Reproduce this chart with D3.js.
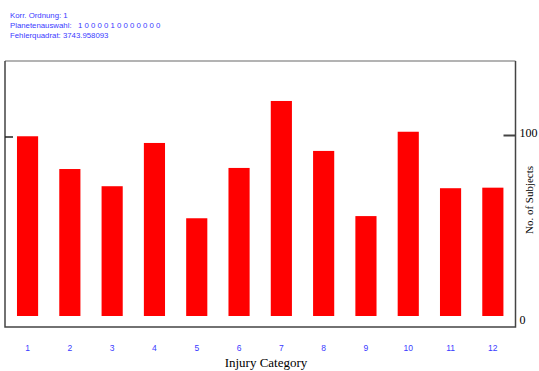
<!DOCTYPE html>
<html>
<head>
<meta charset="utf-8">
<script src="https://cdn.jsdelivr.net/npm/d3@7"></script>
<style>
  html, body { margin: 0; padding: 0; background: #fff; }
  svg { display: block; }
</style>
</head>
<body>
<svg id="chart" width="539" height="371"></svg>
<script>
// Injury categories and the number of subjects per category
const categories = ["1", "2", "3", "4", "5", "6", "7", "8", "9", "10", "11", "12"];
const subjects = [99.3, 81.2, 71.7, 95.6, 54.0, 81.8, 118.8, 91.2, 55.2, 101.8, 70.6, 70.9];
const yTicks = [0, 100];

// Header info lines
const headerLines = [
  "Korr. Ordnung: 1",
  "Planetenauswahl:   1 0 0 0 0 1 0 0 0 0 0 0 0",
  "Fehlerquadrat: 3743.958093"
];

const svg = d3.select("#chart");

const frame = { left: 5, right: 515.5, top: 61, bottom: 327 };

const x = d3.scaleBand()
  .domain(categories)
  .range([6.4, 514])
  .paddingInner(0.5)
  .paddingOuter(0.25);

const y = d3.scaleLinear()
  .domain([0, 100])
  .range([316, 135]);

// header
svg.append("g")
  .selectAll("text")
  .data(headerLines)
  .join("text")
  .attr("x", 10)
  .attr("y", (d, i) => 18 + i * 10)
  .attr("font-family", "Liberation Sans, Arial, sans-serif")
  .attr("font-size", 7.8)
  .attr("fill", "#3a3aff")
  .attr("xml:space", "preserve")
  .style("white-space", "pre")
  .text(d => d);

// bars
svg.append("g")
  .selectAll("rect")
  .data(subjects)
  .join("rect")
  .attr("x", (d, i) => x(categories[i]))
  .attr("width", x.bandwidth())
  .attr("y", d => y(d))
  .attr("height", d => y(0) - y(d))
  .attr("fill", "#ff0000");

// frame
svg.append("line")
  .attr("x1", frame.left).attr("x2", frame.right)
  .attr("y1", frame.top).attr("y2", frame.top)
  .attr("stroke", "#9a9a9a").attr("stroke-width", 1.5);
svg.append("path")
  .attr("d", `M${frame.left},${frame.top} V${frame.bottom} H${frame.right} V${frame.top}`)
  .attr("fill", "none")
  .attr("stroke", "#444").attr("stroke-width", 1.5);

// left axis tick
const leftAxis = d3.axisRight(y).tickValues([100]).tickSize(8).tickFormat("");
const gl = svg.append("g").attr("transform", `translate(${frame.left},1.5)`).call(leftAxis);
gl.select(".domain").remove();
gl.selectAll(".tick line").attr("stroke", "#222").attr("stroke-width", 1.5);

// right axis
const rightAxis = d3.axisRight(y).tickValues(yTicks).tickSizeInner(-12).tickSizeOuter(0).tickPadding(4);
const gr = svg.append("g").attr("transform", `translate(${frame.right},0)`).call(rightAxis);
gr.select(".domain").remove();
gr.selectAll(".tick line")
  .attr("stroke", "#444").attr("stroke-width", 2)
  .attr("display", d => d === 0 ? "none" : null);
gr.selectAll(".tick text")
  .attr("font-family", "Liberation Serif, Times New Roman, serif")
  .attr("font-size", 12)
  .attr("fill", "#000")
  .attr("dy", d => d === 0 ? "0.65em" : "0.1em");

// y axis title
svg.append("text")
  .attr("transform", "translate(533,200) rotate(-90)")
  .attr("text-anchor", "middle")
  .attr("font-family", "Liberation Serif, Times New Roman, serif")
  .attr("font-size", 11)
  .attr("fill", "#000")
  .text("No. of Subjects");

// category labels
svg.append("g")
  .selectAll("text")
  .data(categories)
  .join("text")
  .attr("x", d => x(d) + x.bandwidth() / 2)
  .attr("y", 351)
  .attr("text-anchor", "middle")
  .attr("font-family", "Liberation Sans, Arial, sans-serif")
  .attr("font-size", 8.5)
  .attr("fill", "#3a3aff")
  .text(d => d);

// x axis title
svg.append("text")
  .attr("x", 266)
  .attr("y", 367)
  .attr("text-anchor", "middle")
  .attr("font-family", "Liberation Serif, Times New Roman, serif")
  .attr("font-size", 13)
  .attr("fill", "#000")
  .text("Injury Category");
</script>
</body>
</html>
